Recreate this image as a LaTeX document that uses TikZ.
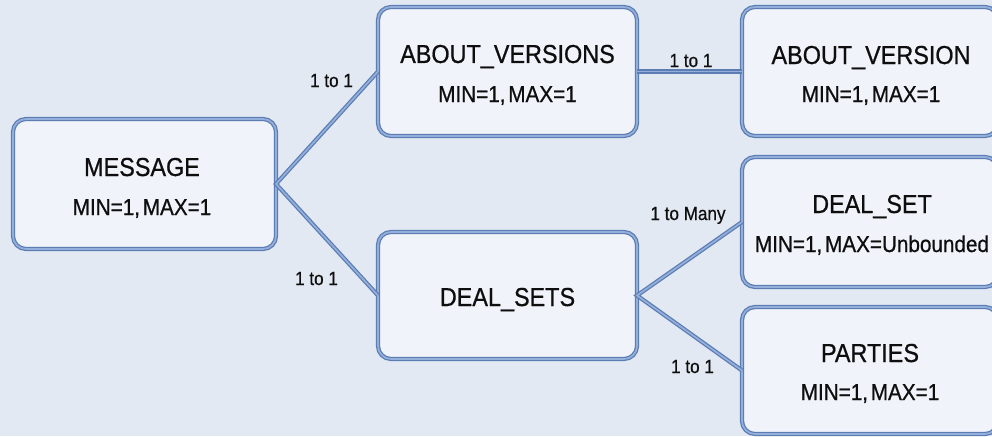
\documentclass[tikz,border=0pt]{standalone}
\usepackage{fontspec}
\setmainfont{Liberation Sans}[FakeStretch=0.9, FakeBold=0.7]
\definecolor{bgcol}{HTML}{E3E9F3}
\definecolor{boxfill}{HTML}{F0F3F9}
\definecolor{bordark}{HTML}{5B7DB4}
\definecolor{borlight}{HTML}{94AFD9}
\definecolor{ink}{HTML}{0E0E0E}
\tikzset{
  edgeline/.style={draw=bordark, line width=1.25pt, double=borlight, double distance=1.7pt},
  entity/.style={rectangle, rounded corners=13pt, fill=boxfill, edgeline,
    inner sep=0pt, outer sep=0pt},
  title/.style={anchor=base, text=ink, inner sep=0pt, font=\fontsize{26}{30}\selectfont},
  card/.style={anchor=base, text=ink, inner sep=0pt, font=\fontsize{23}{27}\selectfont},
  rel/.style={anchor=base, text=ink, inner sep=0pt, font=\fontsize{19}{22}\selectfont},
}
% tighter space after the comma in the cardinality lines
\newcommand{\cardtext}[2]{MIN=#1,\hspace{0.12em}MAX=#2}
\begin{document}
\begin{tikzpicture}[x=1pt, y=-1pt]
  \useasboundingbox (0,0) rectangle (992,436);
  \clip (0,0) rectangle (992,436);
  \fill[bgcol] (0,0) rectangle (992,436);

  % entity boxes
  \node[entity, minimum width=263pt, minimum height=130pt] (msg) at (144.5,184) {};
  \node[entity, minimum width=259pt, minimum height=129pt] (avs) at (507.5,71.5) {};
  \node[entity, minimum width=259pt, minimum height=127pt] (dss) at (507.5,295.5) {};
  \node[entity, minimum width=256pt, minimum height=129pt] (av) at (870,71.5) {};
  \node[entity, minimum width=256pt, minimum height=130pt] (ds) at (870,222) {};
  \node[entity, minimum width=256pt, minimum height=127pt] (pt) at (870,370.5) {};

  % connectors
  \draw[edgeline, line join=miter] (avs.west) -- (msg.east) -- (dss.west);
  \draw[edgeline] (avs.east) -- (av.west);
  \draw[edgeline, line join=miter] (ds.west) -- (dss.east) -- (pt.west);

  % box texts
  \node[title] (msgT) at (142,176) {MESSAGE};
  \node[card]  (msgC) at (142,215) {\cardtext{1}{1}};
  \node[title] (avsT) at (507.5,63) {ABOUT\_VERSIONS};
  \node[card]  (avsC) at (507.5,102) {\cardtext{1}{1}};
  \node[title] (dssT) at (507.5,306) {DEAL\_SETS};
  \node[title] (avT) at (871,64) {ABOUT\_VERSION};
  \node[card]  (avC) at (871,102) {\cardtext{1}{1}};
  \node[title] (dsT) at (872,213) {DEAL\_SET};
  \node[card]  (dsC) at (872,252) {\cardtext{1}{Unbounded}};
  \node[title] (ptT) at (870,362) {PARTIES};
  \node[card]  (ptC) at (870,400) {\cardtext{1}{1}};

  % relationship labels
  \node[rel] (r1) at (331.5,87) {1 to 1};
  \node[rel] (r2) at (316.5,285) {1 to 1};
  \node[rel] (r3) at (691,67) {1 to 1};
  \node[rel] (r4) at (688,220) {1 to Many};
  \node[rel] (r5) at (692.5,373) {1 to 1};
\end{tikzpicture}
\end{document}
